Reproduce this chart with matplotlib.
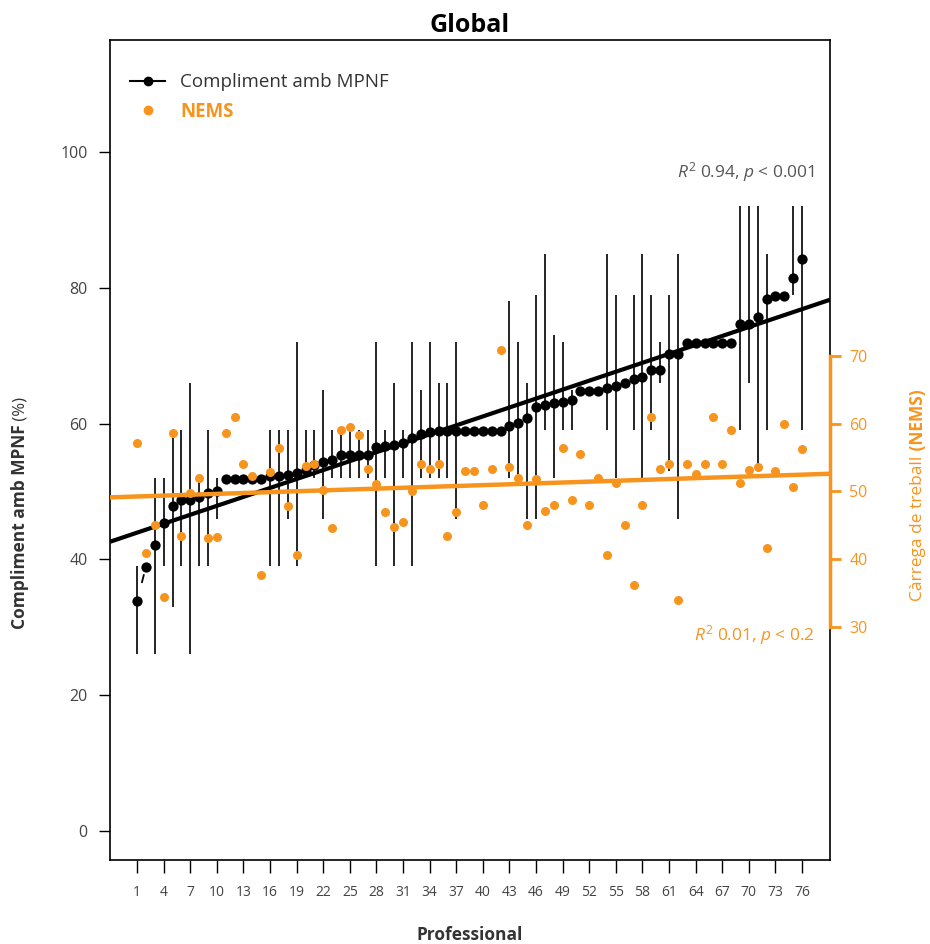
import numpy as np
import matplotlib
matplotlib.use("Agg")
import matplotlib.pyplot as plt
from matplotlib.lines import Line2D

plt.rcParams['font.family'] = ['Open Sans', 'DejaVu Sans']
plt.rcParams['mathtext.fontset'] = 'custom'
plt.rcParams['mathtext.it'] = 'Open Sans:italic'
plt.rcParams['mathtext.rm'] = 'Open Sans'

# Dades: professionals ordenats pel compliment
professional = np.arange(1, 77)

compliment = [33.8, 38.9, 42.1, 45.4, 47.9, 48.8, 48.8, 49.2, 49.7, 50.0,
              51.9, 51.9, 51.9, 51.9, 51.9, 52.2, 52.2, 52.4, 52.7, 53.2,
              53.9, 54.3, 54.7, 55.4, 55.4, 55.4, 55.4, 56.5, 56.7, 56.8,
              57.2, 57.9, 58.4, 58.7, 58.9, 58.9, 58.9, 58.9, 58.9, 58.9,
              58.9, 58.9, 59.7, 60.1, 60.8, 62.4, 62.7, 63.0, 63.2, 63.4,
              64.8, 64.8, 64.8, 65.3, 65.6, 65.9, 66.6, 66.9, 67.9, 67.9,
              70.3, 70.3, 71.9, 71.9, 71.9, 71.9, 71.9, 71.9, 74.7, 74.7,
              75.7, 78.4, 78.8, 78.8, 81.5, 84.3]

nan = np.nan
rang_min = [26, nan, 26, 39, 33, 39, 26, 39, 39, 46,
            nan, nan, nan, nan, nan, 39, 39, 46, 39, 52,
            52, 46, 52, 52, 52, 52, 52, 39, 52, 39,
            52, 39, 52, 52, 52, 52, 46, nan, nan, nan,
            nan, nan, 52, 52, 46, 46, 59, 52, 59, 59,
            nan, nan, nan, 59, 52, nan, 59, 52, 59, 66,
            53, 46, nan, nan, nan, nan, nan, nan, 59, 66,
            54, 59, nan, nan, 79, 59]
rang_max = [39, nan, 52, 52, 58, 59, 66, 52, 59, 52,
            nan, nan, nan, nan, nan, 59, 59, 59, 72, 59,
            59, 65, 59, 59, 59, 59, 59, 72, 59, 66,
            59, 72, 65, 72, 66, 66, 72, nan, nan, nan,
            nan, nan, 78, 72, 66, 79, 85, 73, 72, 65,
            nan, nan, nan, 85, 79, nan, 79, 85, 79, 72,
            79, 85, nan, nan, nan, nan, nan, nan, 92, 92,
            92, 85, nan, nan, 92, 92]

nems = [57.1, 41.0, 45.1, 34.5, 58.6, 43.4, 49.8, 52.0, 43.1, 43.3,
        58.6, 60.9, 54.0, 52.3, 37.7, 52.8, 56.4, 47.8, 40.7, 53.7,
        54.0, 50.2, 44.6, 59.1, 59.5, 58.3, 53.3, 51.1, 47.0, 44.8,
        45.5, 50.0, 54.1, 53.3, 54.1, 43.4, 47.0, 53.0, 53.0, 48.0,
        53.3, 70.9, 53.6, 52.0, 45.0, 51.8, 47.1, 48.0, 56.4, 48.7,
        55.5, 48.0, 52.0, 40.6, 51.2, 45.0, 36.2, 48.0, 60.9, 53.3,
        54.0, 34.0, 54.0, 52.5, 54.0, 60.9, 54.0, 59.0, 51.2, 53.1,
        53.6, 41.7, 53.0, 59.9, 50.6, 56.2]

taronja = '#F7941D'
gris = '#333333'

fig = plt.figure(figsize=(9.3, 9.44), dpi=100)
ax = fig.add_axes([110/930, 1-860/944, 720/930, 820/944])

# rangs verticals
ax.vlines(professional, rang_min, rang_max, color='black', lw=1.2, zorder=2)

# petit tram discontinu entre els dos primers
ax.plot(professional[:2], compliment[:2], color='black', lw=1.3,
        ls=(24.5, (5, 30)), zorder=2)

ax.plot(professional, compliment, 'o', color='black', ms=7.4, mec='none', zorder=3)

# regressio
b, a = np.polyfit(professional, compliment, 1)
xl = np.array([-2.05, 79.15])
ax.plot(xl, a + b*xl, color='black', lw=3.0, zorder=4, solid_capstyle='butt')

ax.set_xlim(-2.05, 79.15)
ax.set_ylim(-4.3, 116.5)
ax.set_yticks([0, 20, 40, 60, 80, 100])
ax.set_xticks(professional[::3])
ax.tick_params(axis='y', direction='out', length=8, width=1, color='black',
               labelsize=11.5, labelcolor='#444444', pad=8)
ax.tick_params(axis='x', direction='out', length=9, width=1, color='black',
               labelsize=10, labelcolor='#444444', pad=9)
for s in ax.spines.values():
    s.set_linewidth(1.2)

# eix NEMS
ax2 = ax.twinx()
ax2.set_ylim(ax.get_ylim())
ax2.plot(professional, nems, 'o', color=taronja, ms=6.5, mec='none', zorder=3)
b2, a2 = np.polyfit(professional, nems, 1)
ax2.plot(xl, a2 + b2*xl, color=taronja, lw=3.2, zorder=4, solid_capstyle='butt')
ax2.set_xlim(ax.get_xlim())
for k in ['top', 'left', 'bottom']:
    ax2.spines[k].set_visible(False)
ax2.spines['right'].set_bounds(30, 70)
ax2.spines['right'].set_color(taronja)
ax2.spines['right'].set_linewidth(2.5)
ax2.set_yticks([30, 40, 50, 60, 70])
ax2.tick_params(axis='y', direction='out', length=8, width=2, color=taronja,
                labelsize=11.5, labelcolor=taronja, pad=6)

# textos R2
ax.text(77.5, 97.0, r'$R^2$ 0.94, $p$ < 0.001', ha='right', va='center',
        fontsize=12.5, color='#555555')
ax.text(77.5, 28.9, r'$R^2$ 0.01, $p$ < 0.2', ha='right', va='center',
        fontsize=12.5, color=taronja)

# llegenda
handles = [Line2D([0], [0], color='black', lw=1.5, marker='o', ms=6),
           Line2D([0], [0], color=taronja, lw=0, marker='o', ms=6)]
leg = ax.legend(handles, ['Compliment amb MPNF', 'NEMS'], loc='upper left',
                bbox_to_anchor=(0.004, 0.98), frameon=False, fontsize=13.5,
                handlelength=1.9, handletextpad=0.8, labelspacing=0.55)
texts = leg.get_texts()
texts[0].set_color(gris)
texts[1].set_color(taronja)
texts[1].set_fontweight('bold')

# titols
fig.text(470/930, 1-26/944, 'Global', ha='center', va='center',
         fontsize=18, fontweight='bold')
fig.text(470/930, 1-935/944, 'Professional', ha='center', va='center',
         fontsize=12.5, fontweight='bold', color=gris)

t1 = fig.text(20/930, 1-527/944, 'Compliment amb MPNF', rotation=90,
              ha='center', va='center', fontsize=12.5, fontweight='bold',
              color=gris)
ax.annotate(' (%)', xy=(0.5, 1), xycoords=t1, rotation=90, ha='center',
            va='bottom', fontsize=12, color=gris, annotation_clip=False)

t2 = fig.text(918/930, 1-528/944, 'Càrrega de treball', rotation=90,
              ha='center', va='center', fontsize=12.5, color=taronja)
ax.annotate(' (NEMS)', xy=(0.5, 1), xycoords=t2, rotation=90, ha='center',
            va='bottom', fontsize=12.5, color=taronja, fontweight='bold',
            annotation_clip=False)

fig.savefig('out.png', dpi=100)
